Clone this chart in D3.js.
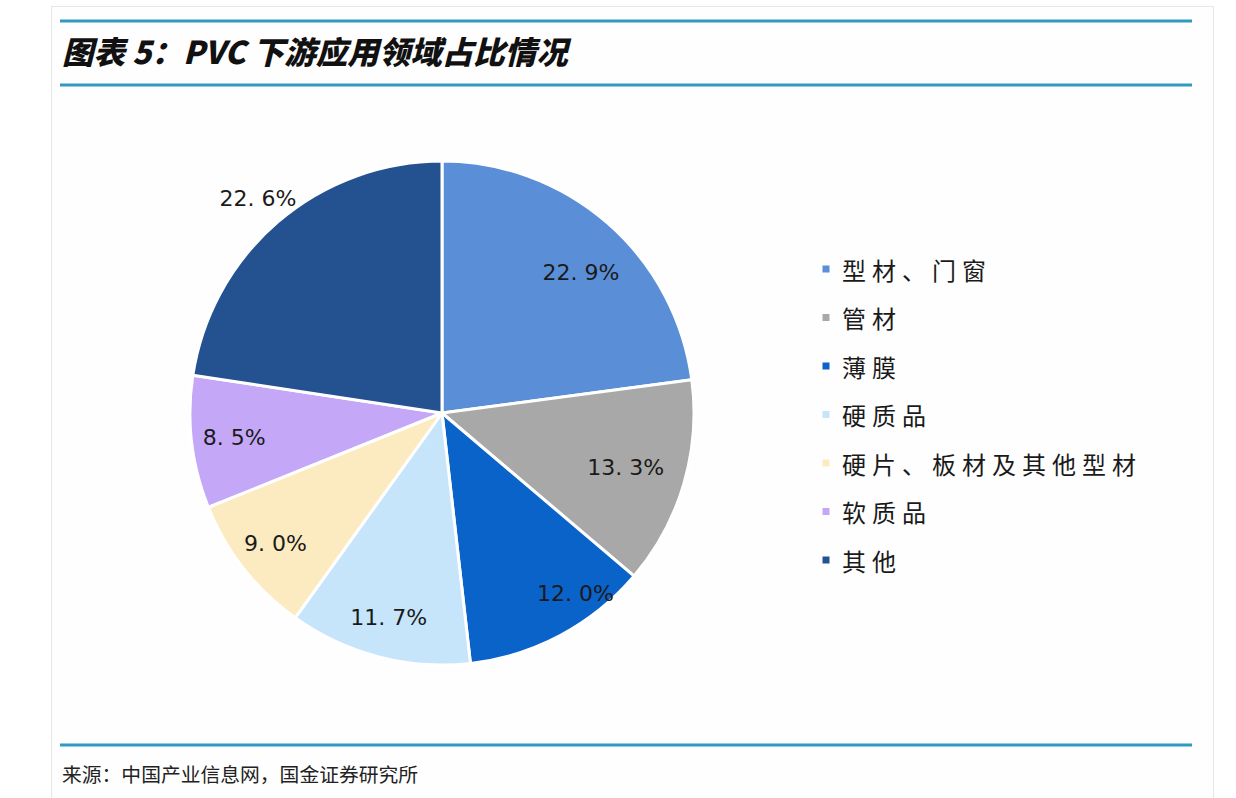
<!DOCTYPE html>
<html>
<head>
<meta charset="utf-8">
<script src="https://cdn.jsdelivr.net/npm/d3@7"></script>
<style>
  html, body { margin: 0; padding: 0; background: #ffffff; }
  svg { display: block; }
</style>
</head>
<body>
<svg id="chart" width="1236" height="798"></svg>
<script>
// ---- data ----
const categories = ["型材、门窗", "管材", "薄膜", "硬质品", "硬片、板材及其他型材", "软质品", "其他"];
const shares = [22.9, 13.3, 12.0, 11.7, 9.0, 8.5, 22.6];
const labels = ["22.9%", "13.3%", "12.0%", "11.7%", "9.0%", "8.5%", "22.6%"];
const colors = ["#5A8FD8", "#A8A8A8", "#0A63C9", "#C6E5FA", "#FCEBC0", "#C4A8F7", "#245290"];
const titleText = "图表 5：PVC 下游应用领域占比情况";
const sourceText = "来源：中国产业信息网，国金证券研究所";

// ---- layout (label placement, Excel best-fit style) ----
const labelRadiusFactor = [0.785, 0.76, 0.89, 0.84, 0.84, 0.83, 1.12];
const labelAngleShiftDeg = [3.4, 0, -8.4, 0, 0, 0, 0];

const svg = d3.select("#chart");

// panel
svg.append("rect").attr("x", 51.5).attr("y", 6.5).attr("width", 1162).attr("height", 800)
  .attr("fill", "#fefefe").attr("stroke", "#e6e6e6").attr("stroke-width", 1);

// rules
const ruleColor = "#2f9ac4";
[21, 85, 745].forEach(y => {
  svg.append("line").attr("x1", 60).attr("x2", 1192).attr("y1", y).attr("y2", y)
    .attr("stroke", ruleColor).attr("stroke-width", 3);
});

// title
svg.append("text").attr("x", 62).attr("y", 64)
  .attr("font-family", "'Noto Sans CJK SC', sans-serif")
  .attr("font-size", 31.5).attr("font-weight", 900).attr("font-style", "italic")
  .attr("fill", "#111")
  .text(titleText);

// source
svg.append("text").attr("x", 62).attr("y", 782)
  .attr("font-family", "'Noto Sans CJK SC', sans-serif")
  .attr("font-size", 19.8).attr("fill", "#222")
  .text(sourceText);

// pie
const cx = 442, cy = 413, R = 252;
const g = svg.append("g").attr("transform", `translate(${cx},${cy})`);
const pie = d3.pie().sort(null).value(d => d)(shares);
const arc = d3.arc().innerRadius(0).outerRadius(R);
g.selectAll("path.slice").data(pie).join("path")
  .attr("class", "slice")
  .attr("d", arc)
  .attr("fill", (d, i) => colors[i])
  .attr("stroke", "#ffffff").attr("stroke-width", 3).attr("stroke-linejoin", "round");

g.selectAll("text.lbl").data(pie).join("text")
  .attr("class", "lbl")
  .attr("transform", (d, i) => {
    const a = (d.startAngle + d.endAngle) / 2 + labelAngleShiftDeg[i] * Math.PI / 180;
    const r = R * labelRadiusFactor[i];
    return `translate(${Math.sin(a) * r},${-Math.cos(a) * r})`;
  })
  .attr("text-anchor", "middle").attr("dominant-baseline", "central")
  .attr("font-family", "'DejaVu Sans', sans-serif").attr("font-size", 22)
  .attr("fill", "#1a1a1a")
  .text((d, i) => labels[i].replace(".", ". "));

// legend
const legend = svg.append("g").attr("transform", "translate(826,269)");
const rowH = 48.5;
const items = legend.selectAll("g").data(categories).join("g")
  .attr("transform", (d, i) => `translate(0,${i * rowH})`);
items.append("rect").attr("x", -3.5).attr("y", -3.5).attr("width", 7).attr("height", 7)
  .attr("fill", (d, i) => colors[i]);
items.append("text").attr("x", 16).attr("y", 0)
  .attr("dominant-baseline", "central")
  .attr("font-family", "'Noto Sans CJK SC', sans-serif").attr("font-size", 24)
  .attr("letter-spacing", 6).attr("fill", "#1a1a1a")
  .text(d => d);
</script>
</body>
</html>
